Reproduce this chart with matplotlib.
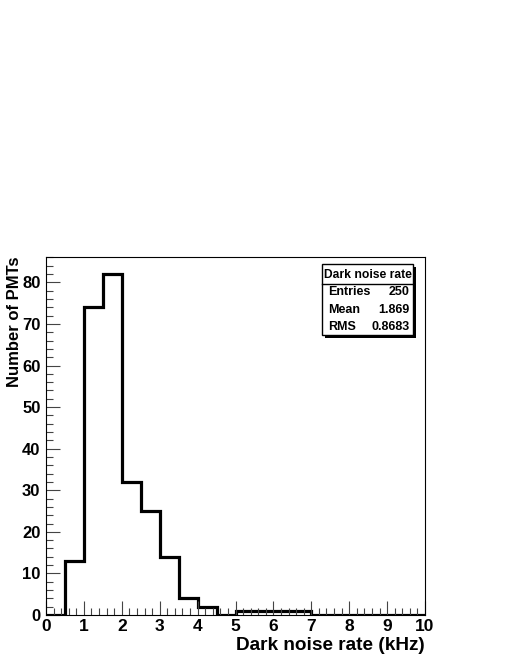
import numpy as np
import matplotlib
matplotlib.use('Agg')
import matplotlib.pyplot as plt
from matplotlib.patches import Rectangle
from matplotlib.ticker import MultipleLocator

# histogram data (bin width 0.5 kHz)
edges = np.arange(0, 10.5, 0.5)
counts = [0, 13, 74, 82, 32, 25, 14, 4, 2, 0,
          1, 1, 1, 1, 0, 0, 0, 0, 0, 0]
stat_names = ['Entries', 'Mean', 'RMS']
stat_values = ['250', '1.869', '0.8683']

plt.rcParams['font.family'] = ['Liberation Sans', 'DejaVu Sans']
plt.rcParams['font.weight'] = 'bold'

W, H = 510, 660
fig = plt.figure(figsize=(5.1, 6.6), dpi=100)
ax = fig.add_axes([46/W, 1-615/H, (425-46)/W, (615-257)/H])

ax.stairs(counts, edges, color='k', lw=2.3, baseline=0)
ax.set_xlim(0, 10)
ax.set_ylim(0, 1.05*max(counts))

ax.xaxis.set_major_locator(MultipleLocator(1))
ax.xaxis.set_minor_locator(MultipleLocator(0.2))
ax.yaxis.set_major_locator(MultipleLocator(10))
ax.yaxis.set_minor_locator(MultipleLocator(2))
ax.tick_params(which='both', direction='in', top=False, right=False, width=0.8, color='#444444')
ax.tick_params(which='major', length=10, labelsize=12.5, pad=3)
ax.tick_params(axis='y', which='major', labelsize=12, pad=4)
ax.tick_params(which='minor', length=5)
for lab in ax.get_xticklabels() + ax.get_yticklabels():
    lab.set_fontweight('bold')
for s in ax.spines.values():
    s.set_linewidth(0.8)

ax.set_xlabel('Dark noise rate (kHz)', fontsize=13.7, fontweight='bold', loc='right', labelpad=2)
ax.set_ylabel('Number of PMTs', fontsize=12, fontweight='bold', loc='top')
ax.yaxis.set_label_coords(-0.063, 1.0)

# stats box
def fx(px):
    return px / W

def fy(py):
    return 1 - py / H

x0, x1, y0, y1 = 322, 413, 264, 335
fig.patches.append(Rectangle((fx(x0+3), fy(y1+3)), fx(x1)-fx(x0), fy(y0)-fy(y1),
                             transform=fig.transFigure, facecolor='k', edgecolor='k', lw=0))
fig.patches.append(Rectangle((fx(x0), fy(y1)), fx(x1)-fx(x0), fy(y0)-fy(y1),
                             transform=fig.transFigure, facecolor='white', edgecolor='k', lw=1))
fig.add_artist(plt.Line2D([fx(x0), fx(x1)], [fy(284), fy(284)], color='k', lw=1, transform=fig.transFigure))
fig.text(fx((x0+x1)/2), fy(274.5), 'Dark noise rate', ha='center', va='center', fontsize=8.7, fontweight='bold')
rows_y = [292, 310, 327]
for name, val, ry in zip(stat_names, stat_values, rows_y):
    fig.text(fx(328), fy(ry), name, ha='left', va='center', fontsize=9, fontweight='bold')
    fig.text(fx(410), fy(ry), val, ha='right', va='center', fontsize=9, fontweight='bold')

fig.savefig('out.png', dpi=100, facecolor='white')
